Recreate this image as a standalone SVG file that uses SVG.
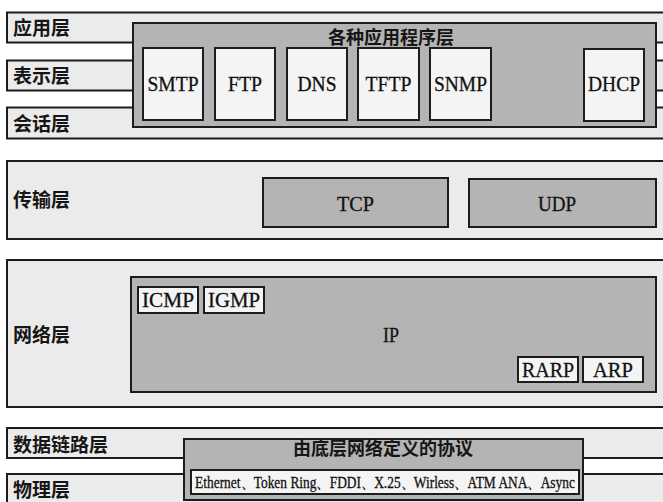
<svg xmlns="http://www.w3.org/2000/svg" width="663" height="502" viewBox="0 0 663 502">
<style>
.strip{fill:#ebebeb;stroke:#1c1c1c;stroke-width:2}
.gray{fill:#b4b4b4;stroke:#1c1c1c;stroke-width:2}
.white{fill:#f4f4f4;stroke:#1c1c1c;stroke-width:2}
.cjk{font-family:"Noto Sans CJK SC","Noto Sans",sans-serif;font-weight:700;fill:#161616}
.lbl{font-size:19px}
.ttl{font-size:18px;text-anchor:middle}
.lat{font-family:"Liberation Serif","Times New Roman",serif;fill:#111111;stroke:#111111;stroke-width:0.3;text-anchor:middle}
</style>
<rect width="663" height="502" fill="#ffffff"/>
<g id="connectors"/>
<g id="layer-app">
<rect class="strip" x="7" y="12.5" width="700" height="30"/>
<text class="cjk lbl" x="13" y="35">应用层</text>
</g>
<g id="layer-presentation">
<rect class="strip" x="7" y="60.5" width="700" height="30"/>
<text class="cjk lbl" x="13" y="83">表示层</text>
</g>
<g id="layer-session">
<rect class="strip" x="7" y="107.5" width="700" height="31"/>
<text class="cjk lbl" x="13" y="131">会话层</text>
</g>
<g id="app-programs">
<rect class="gray" x="133" y="23" width="523" height="104"/>
<text class="cjk ttl" x="391" y="43.5">各种应用程序层</text>
</g>
<g id="smtp"><rect class="white" x="143" y="48" width="60" height="72"/><text class="lat" x="173" y="91" font-size="21" textLength="51" lengthAdjust="spacingAndGlyphs">SMTP</text></g>
<g id="ftp"><rect class="white" x="215" y="48" width="60" height="72"/><text class="lat" x="245" y="91" font-size="21" textLength="34" lengthAdjust="spacingAndGlyphs">FTP</text></g>
<g id="dns"><rect class="white" x="287" y="48" width="60" height="72"/><text class="lat" x="317" y="91" font-size="21" textLength="39" lengthAdjust="spacingAndGlyphs">DNS</text></g>
<g id="tftp"><rect class="white" x="358" y="48" width="61" height="72"/><text class="lat" x="388.5" y="91" font-size="21" textLength="46" lengthAdjust="spacingAndGlyphs">TFTP</text></g>
<g id="snmp"><rect class="white" x="430" y="48" width="61" height="72"/><text class="lat" x="460.5" y="91" font-size="21" textLength="53" lengthAdjust="spacingAndGlyphs">SNMP</text></g>
<g id="dhcp"><rect class="white" x="584" y="49" width="60" height="72"/><text class="lat" x="614" y="91" font-size="21" textLength="52" lengthAdjust="spacingAndGlyphs">DHCP</text></g>
<g id="layer-transport">
<rect class="strip" x="7" y="161" width="700" height="78"/>
<text class="cjk lbl" x="13" y="207">传输层</text>
</g>
<g id="tcp"><rect class="gray" x="263" y="178" width="185" height="49"/><text class="lat" x="355.5" y="211" font-size="21" textLength="37" lengthAdjust="spacingAndGlyphs">TCP</text></g>
<g id="udp"><rect class="gray" x="469" y="179" width="187" height="48"/><text class="lat" x="557" y="211" font-size="21" textLength="38" lengthAdjust="spacingAndGlyphs">UDP</text></g>
<g id="layer-network">
<rect class="strip" x="7" y="260" width="700" height="147"/>
<text class="cjk lbl" x="13" y="342">网络层</text>
</g>
<g id="ip"><rect class="gray" x="131" y="277" width="525" height="115"/><text class="lat" x="391" y="342" font-size="21" textLength="16" lengthAdjust="spacingAndGlyphs">IP</text></g>
<g id="icmp"><rect class="white" x="138" y="287" width="60" height="26"/><text class="lat" x="168" y="307" font-size="21" textLength="52" lengthAdjust="spacingAndGlyphs">ICMP</text></g>
<g id="igmp"><rect class="white" x="204" y="287" width="60" height="26"/><text class="lat" x="234" y="307" font-size="21" textLength="52" lengthAdjust="spacingAndGlyphs">IGMP</text></g>
<g id="rarp"><rect class="white" x="518" y="357" width="60" height="25"/><text class="lat" x="548" y="376.5" font-size="21" textLength="52" lengthAdjust="spacingAndGlyphs">RARP</text></g>
<g id="arp"><rect class="white" x="583" y="357" width="60" height="25"/><text class="lat" x="613" y="376.5" font-size="21" textLength="40" lengthAdjust="spacingAndGlyphs">ARP</text></g>
<g id="layer-datalink">
<rect class="strip" x="7" y="428" width="700" height="30"/>
<text class="cjk lbl" x="13" y="452">数据链路层</text>
</g>
<g id="layer-physical">
<rect class="strip" x="7" y="474" width="700" height="40"/>
<text class="cjk lbl" x="13" y="497">物理层</text>
</g>
<g id="lower-protocols">
<rect class="gray" x="184" y="439" width="399" height="61"/>
<text class="cjk ttl" x="383" y="455">由底层网络定义的协议</text>
<rect class="white" x="191" y="470" width="388" height="24"/>
<g transform="translate(385,488) scale(0.78,1)">
<text class="lat" x="0" y="0" font-size="17" textLength="487" lengthAdjust="spacingAndGlyphs">Ethernet、Token Ring、FDDI、X.25、Wirless、ATM ANA、Async</text>
</g>
</g>
</svg>
